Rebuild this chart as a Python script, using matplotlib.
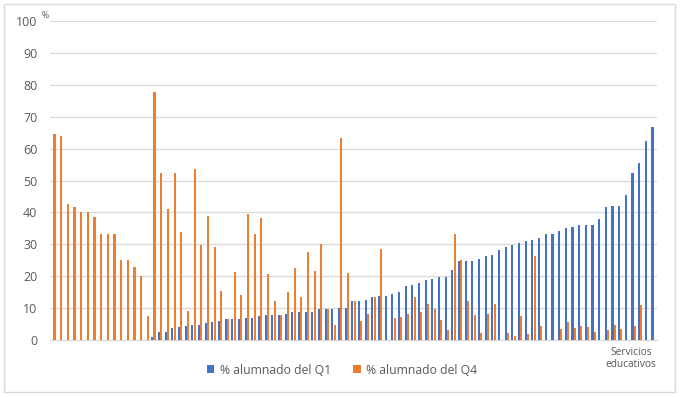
import numpy as np
import matplotlib
matplotlib.use("Agg")
import matplotlib.pyplot as plt
from matplotlib.patches import Rectangle
import matplotlib.transforms as mtransforms

plt.rcParams["font.family"] = ["Open Sans", "DejaVu Sans"]

# datos (91 centros)
q1 = [0, 0, 0, 0, 0, 0, 0, 0, 0, 0, 0, 0, 0, 0, 0,
      1.1, 2.5, 2.7, 4.0, 4.1, 4.5, 4.7, 4.8, 5.3, 5.6,
      6.0, 6.6, 6.8, 6.8, 7.1, 7.1, 7.5, 8.0, 8.0, 8.0,
      8.2, 8.8, 8.8, 9.0, 9.0, 9.7, 9.7, 9.7, 10.2, 10.2,
      12.2, 12.2, 12.7, 13.5, 14.0, 14.0, 14.5, 15.1, 17.0, 17.4,
      17.9, 19.0, 19.2, 19.8, 19.8, 22.1, 24.9, 24.9, 24.9, 25.4,
      26.5, 26.8, 28.4, 29.2, 29.8, 30.5, 31.2, 31.4, 31.9, 33.2,
      33.2, 34.3, 35.1, 35.6, 36.0, 36.2, 36.2, 37.9, 41.7, 41.9,
      41.9, 45.4, 52.3, 55.4, 62.5, 66.7]
q4 = [64.5, 64.0, 42.5, 41.8, 40.0, 40.0, 38.5, 33.3, 33.3, 33.3,
      25.0, 25.0, 23.0, 20.0, 7.5, 77.8, 52.4, 41.0, 52.2, 33.8,
      9.3, 53.7, 29.8, 39.0, 29.3, 15.5, 6.7, 21.3, 14.2, 39.6,
      33.3, 38.4, 20.8, 12.3, 8.0, 15.2, 22.7, 13.4, 27.6, 21.8,
      30.0, 9.7, 4.8, 63.3, 21.0, 12.3, 6.0, 8.3, 13.5, 28.6,
      0, 7.1, 7.4, 8.3, 13.5, 8.9, 11.3, 9.7, 6.4, 3.3,
      33.3, 25.0, 12.3, 8.0, 2.2, 8.3, 11.3, 0, 2.4, 1.3,
      7.7, 2.1, 26.3, 4.4, 0, 0, 3.5, 5.6, 3.9, 4.4,
      4.2, 2.7, 0, 3.2, 4.9, 3.5, 0, 4.4, 11.1, 0, 0]
categorias = [""] * len(q1)
categorias[87] = "Servicios\neducativos"
series = ["% alumnado del Q1", "% alumnado del Q4"]
y_ticks = [0, 10, 20, 30, 40, 50, 60, 70, 80, 90, 100]

azul = "#4472C4"
naranja = "#ED7D31"
gris_texto = "#595959"

fig = plt.figure(figsize=(6.8, 3.97), dpi=100)
ax = fig.add_axes([50 / 680, 1 - 340.3 / 397, 607 / 680, 319.6 / 397])

x = np.arange(len(q1))
w = 0.31
b1 = ax.bar(x - 0.17, q1, width=w, color=azul, label=series[0], zorder=3)
b2 = ax.bar(x + 0.17, q4, width=w, color=naranja, label=series[1], zorder=3)

ax.set_xlim(-0.5, len(q1) - 0.5)
ax.set_ylim(0, 100)
ax.set_yticks(y_ticks)
ax.set_yticklabels([str(v) for v in y_ticks], fontsize=9, color=gris_texto)
ax.set_xticks(x)
ax.set_xticklabels(categorias, fontsize=7.3, color=gris_texto, linespacing=1.1)
ax.tick_params(axis="both", length=0)
ax.tick_params(axis="y", pad=9)
ax.tick_params(axis="x", pad=5)
ax.grid(axis="y", color="#D9D9D9", linewidth=0.9, zorder=0)
for s in ["top", "right", "left"]:
    ax.spines[s].set_visible(False)
ax.spines["bottom"].set_color("#D9D9D9")
ax.spines["bottom"].set_linewidth(0.9)

# la etiqueta de Excel queda un poco a la izquierda del centro
desplaza = mtransforms.ScaledTranslation(-2.5 / 100, 0, fig.dpi_scale_trans)
for lbl in ax.get_xticklabels():
    lbl.set_transform(lbl.get_transform() + desplaza)

fig.text(49 / 680, 1 - 20 / 397, "%", fontsize=6.3, color=gris_texto,
         ha="right", va="bottom")

fig.legend(handles=[b1, b2], loc="center", bbox_to_anchor=(0.503, 0.068),
           ncol=2, frameon=False, fontsize=8.8, handlelength=0.6,
           handleheight=0.6, handletextpad=0.42, columnspacing=1.85,
           labelcolor=gris_texto)

fig.patches.append(Rectangle((4.3 / 680, 1 - 391.7 / 397), 670.7 / 680, 387.4 / 397,
                             transform=fig.transFigure, fill=False,
                             edgecolor="#D9D9D9", linewidth=1.0))

fig.savefig("out.png", dpi=100)
